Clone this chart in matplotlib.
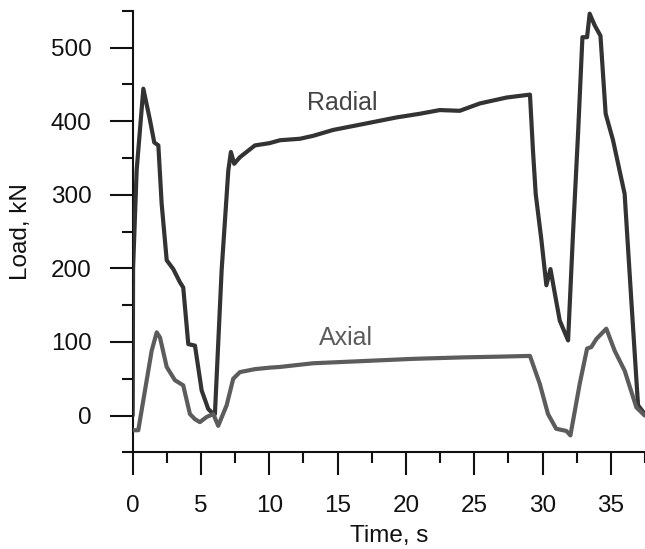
import matplotlib
matplotlib.use("Agg")
import matplotlib.pyplot as plt
from matplotlib.ticker import MultipleLocator

plt.rcParams['font.family'] = ['Liberation Sans', 'DejaVu Sans']

# Radial load trace (time s, load kN)
radial_t = [0.0, 0.03, 0.29, 0.78, 1.27, 1.58, 1.88, 2.12, 2.49, 2.97, 3.46, 3.70,
            4.07, 4.56, 5.05, 5.53, 5.90, 6.02, 6.51, 7.00, 7.19, 7.43, 7.85, 8.95,
            10.0, 10.78, 12.24, 13.21, 14.67, 16.87, 19.31, 21.02, 22.48, 23.94,
            25.41, 27.36, 29.08, 29.30, 29.50, 29.92, 30.28, 30.58, 30.82, 31.26,
            31.87, 32.23, 32.60, 32.92, 33.26, 33.45, 33.82, 34.24, 34.62, 35.16,
            36.01, 36.50, 36.99, 37.48]
radial_load = [0, 200, 333, 444, 401, 371, 367, 288, 211, 199, 181, 174,
               97, 95, 34, 9, 2, 2, 197, 333, 358, 342, 351, 367,
               370, 374, 376, 380, 388, 396, 405, 410, 415, 414,
               424, 432, 436, 360, 301, 238, 177, 199, 174, 129,
               102, 247, 383, 514, 514, 546, 530, 516, 410, 374,
               301, 156, 14, 2]

# Axial load trace (time s, load kN)
axial_t = [0.0, 0.41, 0.90, 1.39, 1.76, 2.00, 2.49, 3.09, 3.70, 4.19, 4.56, 4.92,
           5.41, 5.90, 6.26, 6.88, 7.36, 7.85, 8.95, 10.0, 10.78, 13.21, 16.87,
           20.53, 24.18, 26.87, 29.08, 29.80, 30.40, 31.00, 31.75, 32.04, 32.72,
           33.26, 33.57, 33.94, 34.67, 35.28, 36.01, 36.87, 37.48]
axial_load = [-20, -20, 34, 88, 113, 106, 66, 48, 41, 2, -5, -9,
              -2, 2, -14, 14, 50, 59, 63, 65, 66, 71, 74,
              77, 79, 80, 81, 43, 2, -18, -21, -27, 43,
              91, 93, 104, 118, 88, 61, 11, 0]

x_ticks = [0, 5, 10, 15, 20, 25, 30, 35]
y_ticks = [0, 100, 200, 300, 400, 500]

fig = plt.figure(figsize=(6.45, 5.49), dpi=100)
ax = fig.add_axes([0.2057, 0.1761, 0.7943, 0.8044])

ax.plot(radial_t, radial_load, color='#333333', lw=3.0, solid_joinstyle='round',
        solid_capstyle='round', zorder=3, clip_on=True)
ax.plot(axial_t, axial_load, color='#5c5c5c', lw=3.0, solid_joinstyle='round',
        solid_capstyle='round', zorder=3, clip_on=True)

ax.text(15.35, 424, 'Radial', color='#444444', fontsize=18, ha='center', va='center')
ax.text(15.59, 105, 'Axial', color='#5c5c5c', fontsize=18, ha='center', va='center')

ax.set_xlim(0, 37.5)
ax.set_ylim(-50, 550)
ax.set_xticks(x_ticks)
ax.set_yticks(y_ticks)
ax.xaxis.set_minor_locator(MultipleLocator(2.5))
ax.yaxis.set_minor_locator(MultipleLocator(50))

for side in ['top', 'right']:
    ax.spines[side].set_visible(False)
for side in ['left', 'bottom']:
    ax.spines[side].set_linewidth(1.5)
    ax.spines[side].set_color('#111111')

ax.tick_params(axis='both', which='major', direction='out', length=16.6, width=1.5,
               labelsize=17.5, colors='#111111')
ax.tick_params(axis='both', which='minor', direction='out', length=7.9, width=1.5,
               colors='#111111')
ax.tick_params(axis='y', which='major', pad=13)
ax.tick_params(axis='x', which='major', pad=14)

ax.set_xlabel('Time, s', fontsize=17.5, color='#111111')
ax.set_ylabel('Load, kN', fontsize=17.5, color='#111111')
ax.yaxis.set_label_coords(-0.197, 0.5)
ax.xaxis.set_label_coords(0.5, -0.165)

fig.savefig('out.png', dpi=100)
